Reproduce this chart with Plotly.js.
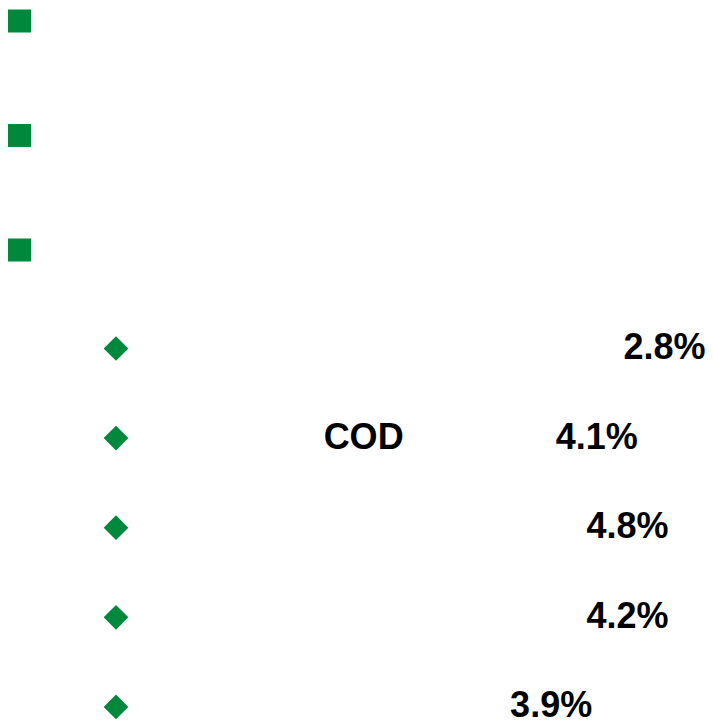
<!DOCTYPE html>
<html>
<head>
<meta charset="utf-8">
<script src="https://cdn.plot.ly/plotly-3.0.1.min.js"></script>
<style>html,body{margin:0;padding:0;background:#fff;}#chart{width:713px;height:722px;}</style>
</head>
<body>
<div id="chart"></div>
<script>
// Level-1 bullets (square) and level-2 bullets (diamond), row order top to bottom
const squareRows = [0, 1, 2];
const diamondRows = [0, 1, 2, 3, 4];
// Visible labels on each diamond row, with their horizontal column (0..1 of line width)
const labelRow = [0, 1, 1, 2, 3, 4];
const labelText = ['2.8%', 'COD', '4.1%', '4.8%', '4.2%', '3.9%'];
const labelCol = [0.932, 0.510, 0.837, 0.880, 0.880, 0.773];

// layout constants (pixels)
const W = 713, H = 722;
const sqX = 19.5, sqTop = 21, sqStep = 114.5;
const dmX = 116, dmTop = 348.5, dmStep = 89.6;
const green = 'rgb(0,136,60)';

const sqY = squareRows.map(r => sqTop + r * sqStep);
const dmY = diamondRows.map(r => dmTop + r * dmStep);
const lbY = labelRow.map(r => dmTop + 1.5 + r * dmStep);
const lbX = labelCol.map(c => c * W);

const data = [
  {type: 'scatter', mode: 'markers', x: sqY.map(() => sqX), y: sqY, cliponaxis: false,
   marker: {symbol: 'square', size: 23, color: green}, hoverinfo: 'skip'},
  {type: 'scatter', mode: 'markers', x: dmY.map(() => dmX), y: dmY, cliponaxis: false,
   marker: {symbol: 'diamond', size: 19, color: green}, hoverinfo: 'skip'},
  {type: 'scatter', mode: 'text', x: lbX, y: lbY, text: labelText, cliponaxis: false,
   textposition: 'middle center',
   textfont: {family: 'Liberation Sans, Arial, sans-serif', size: 36, color: '#000', weight: 700},
   hoverinfo: 'skip'}
];
const layout = {
  width: W, height: H, margin: {l: 0, r: 0, t: 0, b: 0},
  paper_bgcolor: '#fff', plot_bgcolor: '#fff', showlegend: false,
  xaxis: {range: [0, W], visible: false, fixedrange: true},
  yaxis: {range: [H, 0], visible: false, fixedrange: true}
};
Plotly.newPlot('chart', data, layout, {displayModeBar: false, staticPlot: true});
</script>
</body>
</html>
